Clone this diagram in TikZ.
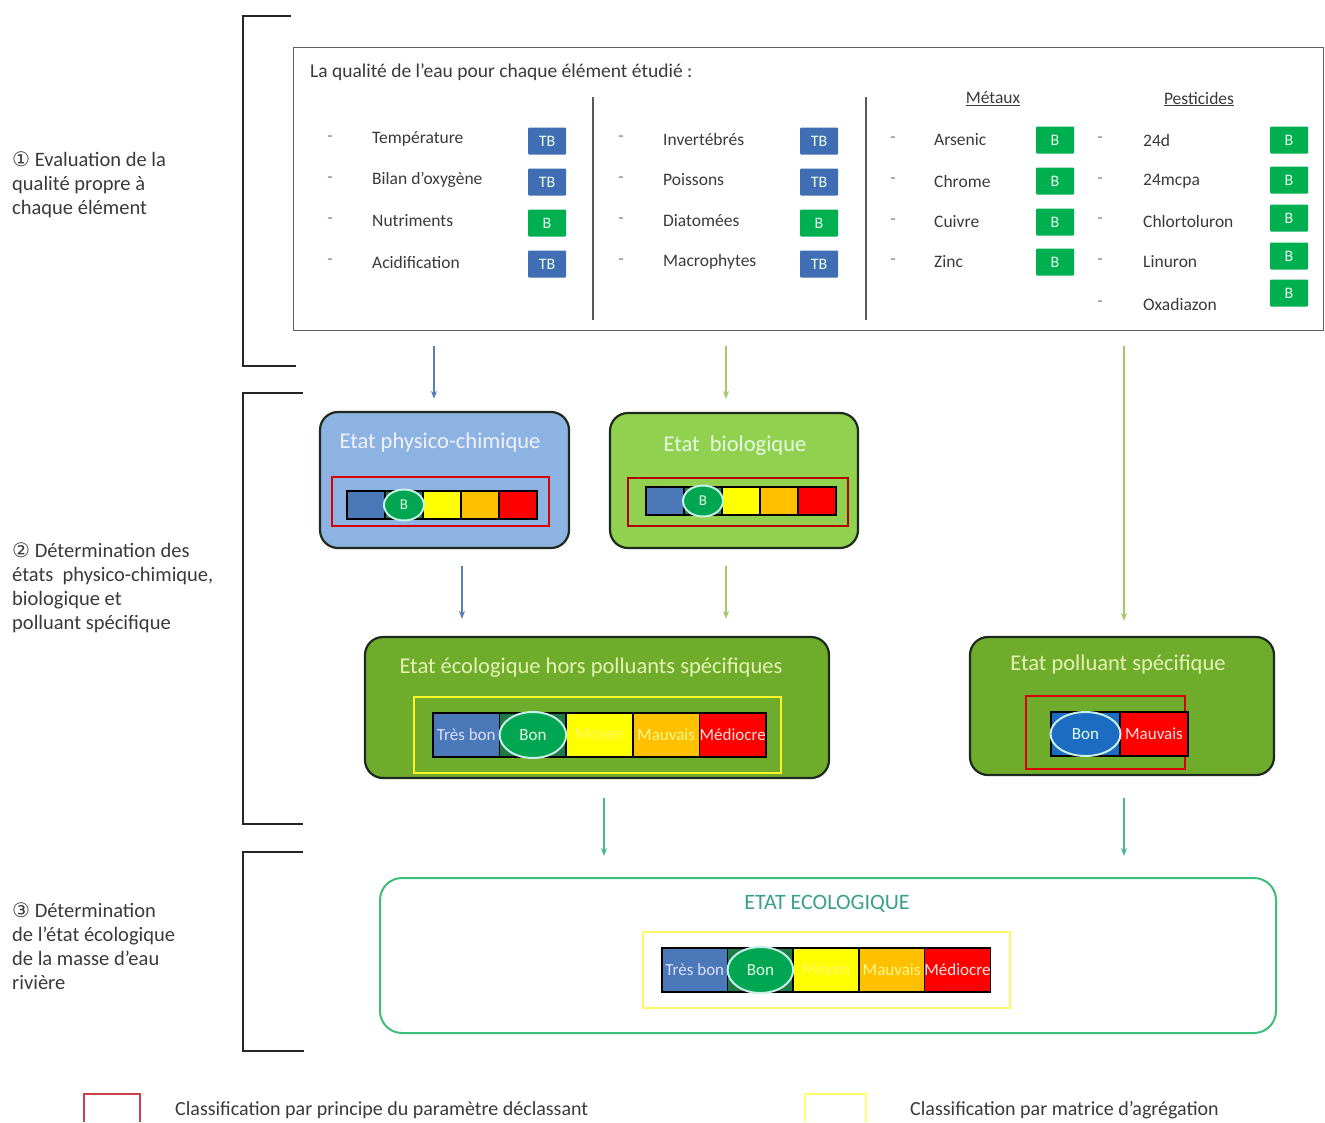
\documentclass[tikz,border=0pt]{standalone}
\usepackage{fontspec}
\setmainfont{Carlito}
\newfontfamily\dejavu{DejaVu Sans}
\usetikzlibrary{arrows.meta,calc,shapes.geometric}
\definecolor{tbblue}{HTML}{3F6EB5}
\definecolor{bgreen}{HTML}{00B050}
\definecolor{physfill}{HTML}{8DB3E2}
\definecolor{biofill}{HTML}{92D050}
\definecolor{ecofill}{HTML}{70AC2C}
\definecolor{boxline}{HTML}{1E2A1E}
\definecolor{arrblue}{HTML}{5A7FB8}
\definecolor{arrgreen}{HTML}{A4C86A}
\definecolor{arrteal}{HTML}{4DB58E}
\definecolor{finalline}{HTML}{3DBE7A}
\definecolor{finaltext}{HTML}{3AA08A}
\definecolor{cellblue}{HTML}{4A78B8}
\definecolor{cellgreen}{HTML}{1F7A45}
\definecolor{cellyellow}{HTML}{FFFF00}
\definecolor{cellorange}{HTML}{FFC000}
\definecolor{cellred}{HTML}{FF0000}
\definecolor{ellgreen}{HTML}{00A651}
\definecolor{ellline}{HTML}{C8F0E6}
\definecolor{polblue}{HTML}{1C6CC4}
\definecolor{legred}{HTML}{D0404C}
\definecolor{legyellow}{HTML}{FFFF70}
\definecolor{txt}{HTML}{3A3A3A}
\definecolor{titlegreen}{HTML}{E4F3B4}
\tikzset{
  bracket/.style={line width=2.4pt, black!85, line cap=rect},
  item/.style={anchor=west, text=txt, inner sep=0pt, font=\fontsize{17.5}{20}\selectfont},
  dashitem/.style={text=gray, inner sep=0pt, font=\fontsize{17.5}{20}\selectfont},
  header/.style={text=txt, inner sep=0pt, font=\fontsize{17.5}{20}\selectfont},
  badge/.style={minimum width=38pt, minimum height=27pt, inner sep=0pt, rounded corners=1pt,
     text=white!92!green, font=\fontsize{16}{16}\selectfont},
  tb/.style={badge, fill=tbblue},
  bq/.style={badge, fill=bgreen},
  statebox/.style={draw=boxline, line width=2.2pt, rounded corners=18pt, inner sep=0pt},
  boxtitle/.style={inner sep=0pt, font=\fontsize{22.5}{26}\selectfont},
  frame/.style={inner sep=0pt, line width=1.5pt},
  cell/.style={draw=black, line width=1.6pt, inner sep=0pt, outer sep=0pt, anchor=west,
     font=\fontsize{17}{18}\selectfont},
  ell/.style={ellipse, draw=ellline, line width=2pt, fill=ellgreen, inner sep=0pt,
     text=white!90!green, font=\fontsize{17}{18}\selectfont},
  arrb/.style={draw=arrblue, line width=1.2pt, -{Stealth[length=8pt,width=6pt]}},
  arrg/.style={draw=arrgreen, line width=1.2pt, -{Stealth[length=8pt,width=6pt]}},
  arrt/.style={draw=arrteal, line width=1.2pt, -{Stealth[length=8pt,width=6pt]}},
  sidelabel/.style={anchor=north west, align=left, inner sep=0pt, text=txt,
     font=\fontsize{20.5}{24}\selectfont},
  legtext/.style={anchor=west, inner sep=0pt, text=txt, font=\fontsize{20}{22}\selectfont},
}
% small five-cell bar: name, left x, centre y
\newcommand\smallbar[3]{%
  \node[cell, fill=cellblue, minimum width=38pt, minimum height=28pt] (#1-1) at (#2,#3) {};
  \node[cell, fill=cellgreen, minimum width=38pt, minimum height=28pt] (#1-2) at (#1-1.east) {};
  \node[cell, fill=cellyellow, minimum width=38pt, minimum height=28pt] (#1-3) at (#1-2.east) {};
  \node[cell, fill=cellorange, minimum width=38pt, minimum height=28pt] (#1-4) at (#1-3.east) {};
  \node[cell, fill=cellred, minimum width=38pt, minimum height=28pt] (#1-5) at (#1-4.east) {};
  \node[ell, minimum width=40pt, minimum height=31pt, font=\fontsize{15}{16}\selectfont] (#1-e) at (#1-2) {B};
}
% big five-cell bar: name, left x, centre y, cell width
\newcommand\bigbar[4]{%
  \node[cell, fill=cellblue, text=white!88!blue, minimum width=#4, minimum height=44pt] (#1-1) at (#2,#3) {Très bon};
  \node[cell, fill=cellgreen, minimum width=#4, minimum height=44pt] (#1-2) at (#1-1.east) {};
  \node[cell, fill=cellyellow, text=yellow!60!white, minimum width=#4, minimum height=44pt] (#1-3) at (#1-2.east) {Moyen};
  \node[cell, fill=cellorange, text=yellow!45!white, minimum width=#4, minimum height=44pt] (#1-4) at (#1-3.east) {Mauvais};
  \node[cell, fill=cellred, text=red!12!white, minimum width=#4, minimum height=44pt] (#1-5) at (#1-4.east) {Médiocre};
  \node[ell, minimum width=#4, minimum height=46pt] (#1-e) at (#1-2) {Bon};
}
\begin{document}
\begin{tikzpicture}[x=1pt,y=-1pt]
\useasboundingbox[fill=white] (0,0) rectangle (1325,1122);

% ---------- brackets ----------
\draw[bracket] (290,16) -- (243,16) -- (243,366) -- (295,366);
\draw[bracket] (302,393) -- (243,393) -- (243,824) -- (302,824);
\draw[bracket] (302,852) -- (243,852) -- (243,1051) -- (303,1051);

% ---------- side labels ----------
\node[sidelabel] (lab1) at (12,152) {{\dejavu\fontsize{20}{24}\selectfont ①} Evaluation de la\\qualité propre à\\chaque élément};
\node[sidelabel] (lab2) at (12,543) {{\dejavu\fontsize{20}{24}\selectfont ②} Détermination des\\états\ \ physico-chimique,\\biologique et\\polluant spécifique};
\node[sidelabel] (lab3) at (12,903) {{\dejavu\fontsize{20}{24}\selectfont ③} Détermination\\de l’état écologique\\de la masse d’eau\\rivière};

% ---------- top box ----------
\node[draw=gray!75!black, line width=1.3pt, minimum width=1030pt, minimum height=283pt,
      inner sep=0pt, anchor=north west] (top) at (293,47) {};
\node[anchor=west, inner sep=0pt, text=txt, font=\fontsize{19.5}{22}\selectfont] (ttl) at (310,72)
  {La qualité de l’eau pour chaque élément étudié :};
\draw[line width=1.3pt, gray!70!black] (593,97) -- (593,320);
\draw[line width=1.3pt, gray!70!black] (866,97) -- (866,320);

% column 1
\foreach \lab/\y/\q/\t [count=\i] in {Température/139/tb/TB, Bilan d’oxygène/180/tb/TB, Nutriments/221/bq/B, Acidification/262/tb/TB}{
  \node[dashitem] (c1d-\i) at (330,\y) {-};
  \node[item] (c1-\i) at (372,\y) {\lab};
  \node[\q] (c1b-\i) at (547,\y+2) {\t};
}
% column 2
\foreach \lab/\y/\q/\t [count=\i] in {Invertébrés/139/tb/TB, Poissons/180/tb/TB, Diatomées/221/bq/B, Macrophytes/262/tb/TB}{
  \node[dashitem] (c2d-\i) at (621,\y) {-};
  \node[item] (c2-\i) at (663,\y) {\lab};
  \node[\q] (c2b-\i) at (819,\y+2) {\t};
}
% column 3
\node[header] (met) at (993,99) {\underline{Métaux}};
\foreach \lab/\y [count=\i] in {Arsenic/140, Chrome/181, Cuivre/222, Zinc/262}{
  \node[dashitem] (c3d-\i) at (893,\y) {-};
  \node[item] (c3-\i) at (934,\y) {\lab};
  \node[bq] (c3b-\i) at (1055,\y) {B};
}
% column 4
\node[header] (pes) at (1199,99) {\underline{Pesticides}};
\foreach \lab/\y/\by [count=\i] in {24d/140/140, 24mcpa/181/180, Chlortoluron/221/218, Linuron/262/256, Oxadiazon/304/293}{
  \node[dashitem] (c4d-\i) at (1100,\y) {-};
  \node[item] (c4-\i) at (1143,\y) {\lab};
  \node[bq] (c4b-\i) at (1289,\by) {B};
}

% ---------- state boxes ----------
\node[statebox, fill=physfill, minimum width=249pt, minimum height=136pt] (phys) at (444.5,480) {};
\node[boxtitle, text=white!95!blue] (physT) at (440,442) {Etat physico-chimique};
\node[frame, draw=red!85!black, minimum width=217pt, minimum height=49pt] (physR) at (440.5,501.5) {};
\smallbar{pb}{347}{505}

\node[statebox, fill=biofill, minimum width=248pt, minimum height=135pt] (bio) at (734,480.5) {};
\node[boxtitle, text=white!90!green] (bioT) at (735,446) {Etat\ \ biologique};
\node[frame, draw=red!70!black, minimum width=220pt, minimum height=48pt] (bioR) at (738,502) {};
\smallbar{bb}{646}{501}

\node[statebox, fill=ecofill, minimum width=464pt, minimum height=141pt] (hors) at (597,707.5) {};
\node[boxtitle, text=titlegreen] (horsT) at (591,668) {Etat écologique hors polluants spécifiques};
\node[frame, draw=yellow!85!white, minimum width=367pt, minimum height=76pt] (horsY) at (597.5,735) {};
\bigbar{hb}{433}{735}{66.6pt}

\node[statebox, fill=ecofill, minimum width=304pt, minimum height=138pt] (pol) at (1122,706) {};
\node[boxtitle, text=titlegreen] (polT) at (1118,664) {Etat polluant spécifique};
\node[frame, draw=red!85!black, minimum width=159pt, minimum height=73pt] (polR) at (1105.5,732.5) {};
\node[cell, fill=polblue, minimum width=69pt, minimum height=44pt] (pl-1) at (1051,734) {};
\node[cell, fill=cellred, text=red!12!white, minimum width=68pt, minimum height=44pt] (pl-2) at (pl-1.east) {Mauvais};
\node[ell, fill=polblue, minimum width=70pt, minimum height=44pt] (pl-e) at (pl-1) {Bon};

% ---------- final box ----------
\node[draw=finalline, line width=2pt, rounded corners=22pt, fill=white, minimum width=896pt,
      minimum height=155pt, inner sep=0pt] (fin) at (828,955.5) {};
\node[boxtitle, text=finaltext, font=\fontsize{22}{24}\selectfont] (finT) at (827,904) {ETAT ECOLOGIQUE};
\node[frame, draw=yellow!60!white, line width=2.5pt, minimum width=367pt, minimum height=76pt] (finY) at (826.5,970) {};
\bigbar{fb}{662}{970}{65.6pt}

% ---------- arrows ----------
\coordinate (xa) at (434,0);
\coordinate (xb) at (726,0);
\coordinate (xc) at (1124,0);
\coordinate (xd) at (462,0);
\coordinate (xe) at (604,0);
\draw[arrb, shorten <=15pt, shorten >=12pt] (top.south -| xa) -- (phys.north -| xa);
\draw[arrg, shorten <=15pt, shorten >=13pt] (top.south -| xb) -- (bio.north -| xb);
\draw[arrg, shorten <=15pt, shorten >=15pt] (top.south -| xc) -- (pol.north -| xc);
\draw[arrb, shorten <=17pt, shorten >=17pt] (phys.south -| xd) -- (hors.north -| xd);
\draw[arrg, shorten <=17pt, shorten >=17pt] (bio.south -| xb) -- (hors.north -| xb);
\draw[arrt, shorten <=19pt, shorten >=21pt] (hors.south -| xe) -- (fin.north -| xe);
\draw[arrt, shorten <=22pt, shorten >=21pt] (pol.south -| xc) -- (fin.north -| xc);

% ---------- legend ----------
\draw[legred, line width=2pt] (84,1122) -- (84,1094) -- (140,1094) -- (140,1122);
\node[legtext] (leg1) at (175,1110) {Classification par principe du paramètre déclassant};
\draw[legyellow, line width=2pt] (805,1122) -- (805,1094) -- (866,1094) -- (866,1122);
\node[legtext] (leg2) at (910,1110) {Classification par matrice d’agrégation};
\end{tikzpicture}
\end{document}
